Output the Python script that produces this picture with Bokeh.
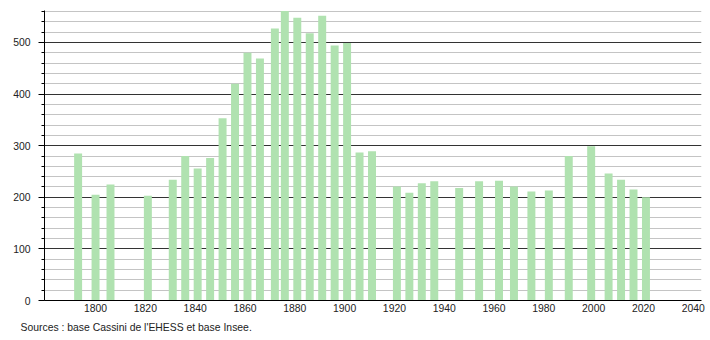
from bokeh.plotting import figure
from bokeh.models import SingleIntervalTicker, Range1d, Title, FixedTicker
from bokeh.embed import file_html
from bokeh.resources import INLINE

years = [1793, 1800, 1806, 1821, 1831, 1836, 1841, 1846, 1851, 1856, 1861, 1866,
         1872, 1876, 1881, 1886, 1891, 1896, 1901, 1906, 1911, 1921, 1926, 1931,
         1936, 1946, 1954, 1962, 1968, 1975, 1982, 1990, 1999, 2006, 2011, 2016, 2021]
population = [285, 205, 225, 203, 234, 280, 256, 276, 353, 420, 480, 469,
              527, 561, 548, 518, 552, 494, 499, 287, 289, 221, 209, 227,
              231, 218, 231, 232, 221, 211, 213, 280, 299, 246, 234, 215, 200]
x_ticks = [1800, 1820, 1840, 1860, 1880, 1900, 1920, 1940, 1960, 1980, 2000, 2020, 2040]
source_text = "Sources : base Cassini de l'EHESS et base Insee."

FONT = "Liberation Sans"
FS = "10.4px"

p = figure(width=710, height=340, output_backend="svg", toolbar_location=None,
           x_range=Range1d(1779.5, 2043.3), y_range=Range1d(0, 562),
           min_border_left=44, min_border_right=9, min_border_top=10, min_border_bottom=40)
p.outline_line_color = None
p.background_fill_color = "white"
p.border_fill_color = "white"

p.vbar(x=years, top=population, width=3.2, bottom=0,
       fill_color="#b0e2b0", line_color=None)

# y axis
p.yaxis.ticker = SingleIntervalTicker(interval=100, num_minor_ticks=5)
p.yaxis.major_tick_out = 6
p.yaxis.major_tick_in = 0
p.yaxis.minor_tick_out = 3
p.yaxis.minor_tick_in = 0
p.yaxis.axis_line_color = "black"
p.yaxis.major_tick_line_color = "black"
p.yaxis.minor_tick_line_color = "black"
p.yaxis.major_label_text_font = FONT
p.yaxis.major_label_text_font_size = FS
p.yaxis.major_label_text_color = "#222222"
p.yaxis.major_label_standoff = 8

p.ygrid.grid_line_color = "#333333"
p.ygrid.minor_grid_line_color = "#c4c4c4"
p.xgrid.grid_line_color = None

# x axis
p.xaxis.ticker = FixedTicker(ticks=x_ticks)
p.xaxis.major_tick_out = 0
p.xaxis.major_tick_in = 0
p.xaxis.minor_tick_line_color = None
p.xaxis.axis_line_color = "black"
p.xaxis.major_label_text_font = FONT
p.xaxis.major_label_text_font_size = FS
p.xaxis.major_label_text_color = "#222222"
p.xaxis.major_label_standoff = 3

src = Title(text=source_text, align="left", offset=-24, standoff=10,
            text_font=FONT, text_font_size=FS, text_color="#222222",
            text_font_style="normal")
p.add_layout(src, "below")

open("out.html", "w").write(file_html(p, INLINE))
